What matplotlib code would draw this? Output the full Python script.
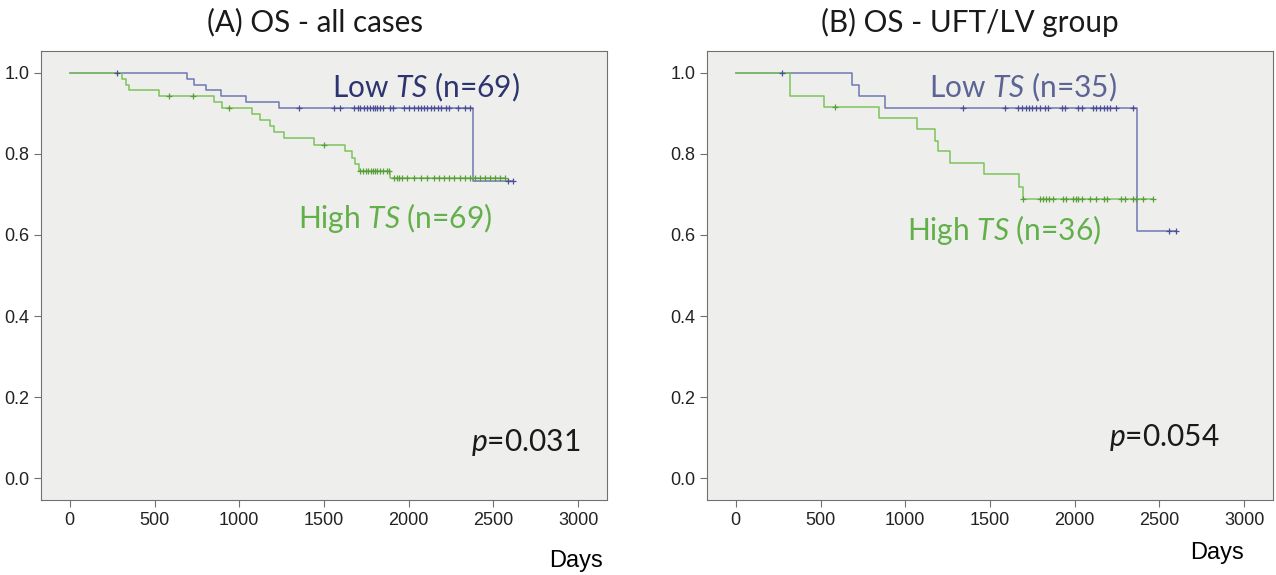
import matplotlib.pyplot as plt
import numpy as np

plt.rcParams['mathtext.fontset'] = 'custom'
plt.rcParams['mathtext.rm'] = 'Lato'
plt.rcParams['mathtext.it'] = 'Lato:italic'

# panel A - all cases
a_low_t = [694, 733, 801, 890, 1037, 1233, 2377]
a_low_s = [0.986, 0.971, 0.957, 0.942, 0.928, 0.913, 0.733]
a_low_c = [280, 1351, 1557, 1597, 1676, 1700, 1715, 1735, 1754, 1770, 1790, 1800, 1810,
           1830, 1850, 1890, 1910, 1970, 2000, 2030, 2055, 2070, 2090, 2110, 2130, 2150,
           2170, 2190, 2220, 2240, 2290, 2330, 2360, 2585, 2615]
a_high_t = [310, 330, 350, 526, 851, 900, 1076, 1125, 1184, 1204, 1263, 1440, 1626,
            1666, 1685, 1705, 1892]
a_high_s = [0.986, 0.971, 0.957, 0.942, 0.928, 0.913, 0.899, 0.884, 0.870, 0.855, 0.840,
            0.823, 0.807, 0.790, 0.774, 0.758, 0.741]
a_high_c = [585, 729, 939, 1499, 1715, 1730, 1745, 1760, 1775, 1790, 1800, 1815, 1830,
            1850, 1870, 1882, 1911, 1930, 1945, 1960, 1990, 2030, 2070, 2110, 2150, 2180,
            2210, 2240, 2270, 2300, 2330, 2360, 2390, 2420, 2450, 2480, 2510, 2540, 2570]

# panel B - UFT/LV group
b_low_t = [686, 725, 882, 2369]
b_low_s = [0.971, 0.943, 0.914, 0.610]
b_low_c = [275, 1343, 1588, 1666, 1690, 1710, 1730, 1750, 1770, 1795, 1824, 1840, 1922,
           1941, 2020, 2040, 2107, 2127, 2147, 2170, 2190, 2210, 2245, 2343, 2559, 2598]
b_high_t = [318, 520, 843, 1069, 1176, 1196, 1265, 1467, 1673, 1696]
b_high_s = [0.944, 0.917, 0.889, 0.861, 0.833, 0.806, 0.778, 0.750, 0.719, 0.688]
b_high_c = [588, 1696, 1794, 1810, 1830, 1850, 1873, 1931, 1951, 1990, 2005, 2020, 2040,
            2088, 2127, 2175, 2190, 2275, 2295, 2343, 2360, 2402, 2461]

xticks = [0, 500, 1000, 1500, 2000, 2500, 3000]
yticks = [0.0, 0.2, 0.4, 0.6, 0.8, 1.0]

blue = '#6f78b4'
blue_mk = '#4a4f96'
green = '#7ec35c'
green_mk = '#5a9e3c'


def km(ax, t, s, c, col, mkcol):
    t = np.array(t)
    s = np.array(s)
    c = np.array(c)
    end = max(c.max(), t.max())
    x = np.concatenate([[0], t, [end]])
    y = np.concatenate([[1.0], s, [s[-1]]])
    ax.step(x, y, where='post', color=col, lw=1.1, zorder=3)
    lev = np.concatenate([[1.0], s])[np.searchsorted(t, c, side='right')]
    ax.plot(c, lev, '+', color=mkcol, ms=5, mew=0.9, zorder=4)


fig = plt.figure(figsize=(12.76, 5.75), dpi=100)
axA = fig.add_axes([41 / 1276, 1 - 500 / 575, 566 / 1276, 449 / 575])
axB = fig.add_axes([707 / 1276, 1 - 500 / 575, 566 / 1276, 449 / 575])

km(axA, a_low_t, a_low_s, a_low_c, blue, blue_mk)
km(axA, a_high_t, a_high_s, a_high_c, green, green_mk)
km(axB, b_low_t, b_low_s, b_low_c, blue, blue_mk)
km(axB, b_high_t, b_high_s, b_high_c, green, green_mk)

for ax in (axA, axB):
    ax.set_facecolor('#eeefec')
    ax.set_xlim(-170, 3170)
    ax.set_ylim(-0.054, 1.054)
    ax.set_xticks(xticks)
    ax.set_yticks(yticks)
    ax.set_yticklabels(['%.1f' % v for v in yticks])
    for sp in ax.spines.values():
        sp.set_color('#707070')
    ax.tick_params(color='#707070', length=5, labelsize=13, labelcolor='#222222')
    for lab in ax.get_xticklabels() + ax.get_yticklabels():
        lab.set_family('Liberation Sans')

tf = dict(family='Lato', fontsize=21.3, color='#1a1a1a')
fig.text(315 / 1276, 1 - 22 / 575, '(A) OS - all cases', ha='center', va='center', **tf)
fig.text(970 / 1276, 1 - 22 / 575, '(B) OS - UFT/LV group', ha='center', va='center', **tf)

fig.text(576 / 1276, 1 - 561 / 575, 'Days', ha='center', va='center', family='Liberation Sans', fontsize=17)
fig.text(1217 / 1276, 1 - 553 / 575, 'Days', ha='center', va='center', family='Liberation Sans', fontsize=17)

lf = dict(family='Lato', fontsize=21.5, ha='center', va='center')
axA.text(2100, 0.963, r'Low $\mathit{TS}$ (n=69)', color='#2e3470', **lf)
axA.text(1920, 0.642, r'High $\mathit{TS}$ (n=69)', color='#62b04a', **lf)
axA.text(2693, 0.089, r'$\mathit{p}$=0.031', color='#1a1a1a', **lf)
axB.text(1694, 0.963, r'Low $\mathit{TS}$ (n=35)', color='#5b6494', **lf)
axB.text(1582, 0.612, r'High $\mathit{TS}$ (n=36)', color='#62b04a', **lf)
axB.text(2529, 0.099, r'$\mathit{p}$=0.054', color='#1a1a1a', **lf)

fig.savefig('out.png', dpi=100)
